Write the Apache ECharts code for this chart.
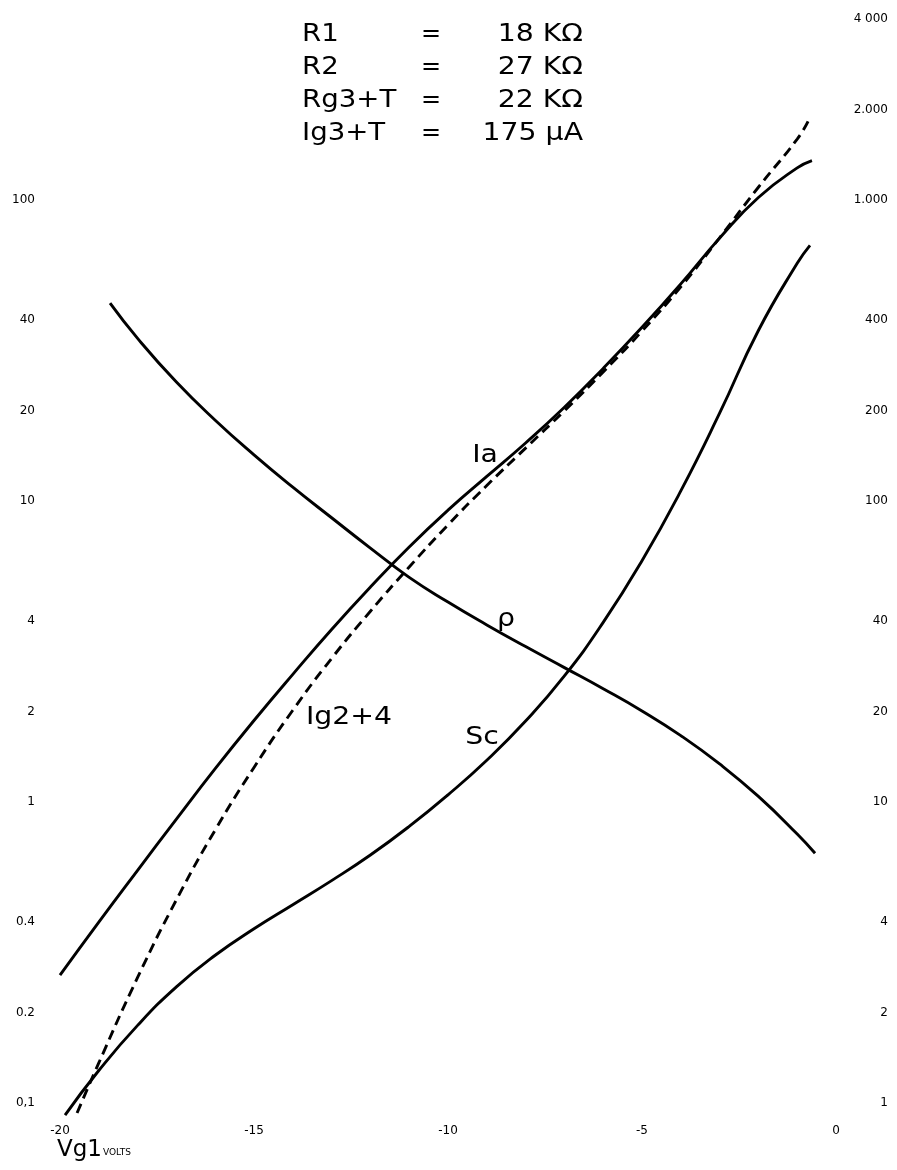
<!DOCTYPE html>
<html><head><meta charset="utf-8">
<script src="https://cdn.jsdelivr.net/npm/echarts@6/dist/echarts.min.js"></script>
<style>html,body{margin:0;padding:0;background:#fff}#c{width:897px;height:1170px}</style>
</head><body><div id="c"></div>
<script>
// ---- data ----
const xTickLabels = ['-20', '-15', '-10', '-5', '0'];
const leftTickValues = [0.1, 0.2, 0.4, 1, 2, 4, 10, 20, 40, 100];
const leftTickLabels = ['0,1', '0.2', '0.4', '1', '2', '4', '10', '20', '40', '100'];
const rightTickValues = [1, 2, 4, 10, 20, 40, 100, 200, 400, 1000, 2000, 4000];
const rightTickLabels = ['1', '2', '4', '10', '20', '40', '100', '200', '400', '1.000', '2.000', '4 000'];

// Ia (solid)
const iaVg1 = [-20, -19, -18, -17, -16, -15, -14, -13, -12, -11, -10, -9, -8, -7, -6, -5, -4, -3, -2, -1, -0.62];
const iaVal = [0.266, 0.399, 0.593, 0.878, 1.291, 1.866, 2.657, 3.745, 5.18, 7.04, 9.33, 12.08, 15.6, 20.5, 27.6, 37.8, 52.7, 74.8, 102.1, 128.0, 135.4];

// Ig2+4 (dashed)
const ig24Vg1 = [-19.56, -19, -18, -17, -16, -15, -14, -13, -12, -11, -10, -9, -8, -7, -6, -5, -4, -3, -2, -1, -0.72];
const ig24Val = [0.0926, 0.1359, 0.2613, 0.4732, 0.8075, 1.303, 2.019, 3.001, 4.306, 6.04, 8.34, 11.27, 15.0, 19.96, 26.86, 36.74, 51.54, 75.0, 110.4, 159.6, 182.8];

// Sc (solid)
const scVg1 = [-19.87, -19, -18, -17, -16, -15, -14, -13, -12, -11, -10, -9, -8, -7, -6, -5, -4, -3, -2, -1, -0.67];
const scVal = [0.0912, 0.1282, 0.1811, 0.2432, 0.3097, 0.3793, 0.456, 0.5483, 0.6668, 0.8299, 1.057, 1.377, 1.858, 2.624, 3.954, 6.339, 10.81, 19.59, 36.9, 61.7, 70.8];

// rho (solid)
const rhoVg1 = [-18.71, -18, -17, -16, -15, -14, -13, -12, -11, -10, -9, -8, -7, -6, -5, -4, -3, -2, -1, -0.54];
const rhoVal = [45.48, 34.73, 24.87, 18.57, 14.25, 11.13, 8.805, 6.98, 5.58, 4.62, 3.879, 3.286, 2.797, 2.38, 2.008, 1.663, 1.339, 1.044, 0.783, 0.676];

const paramNames = ['R1', 'R2', 'Rg3+T', 'Ig3+T'];
const paramValues = ['18 KΩ', '27 KΩ', '22 KΩ', '175 μA'];

// ---- chart ----
const pairs = (xs, ys) => xs.map((x, i) => [x, ys[i]]);
const lookup = (vals, labels) => v => {
  const i = vals.findIndex(a => Math.abs(a - v) / a < 1e-6);
  return i >= 0 ? labels[i] : '';
};
const FONT = 'DejaVu Sans';
const lineSeries = (name, data, dashed) => ({
  name, type: 'line', data, smooth: 0.5, symbol: 'none', clip: false,
  lineStyle: { color: '#000', width: 2.9, type: dashed ? [10, 6] : 'solid' }
});
const txt = (text, x, y, size, align, sx) => ({
  type: 'text', x, y, scaleX: sx || 1,
  style: { text, font: size + 'px ' + FONT, fill: '#000', textAlign: align, textVerticalAlign: 'middle' }
});

const chart = echarts.init(document.getElementById('c'), null, { renderer: 'canvas' });
const graphics = [];
const rowY = [35, 68, 101, 134];
paramNames.forEach((n, i) => {
  graphics.push(txt(n, 302, rowY[i], 24, 'left', 1.15));
  graphics.push(txt('=', 431, rowY[i], 24, 'center', 1));
  graphics.push(txt(paramValues[i], 583, rowY[i], 24, 'right', 1.18));
});
const curveLabels = [
  { text: 'Ia', x: 485, y: 456 },
  { text: 'ρ', x: 506, y: 620 },
  { text: 'Sc', x: 482, y: 738 },
  { text: 'Ig2+4', x: 349, y: 718 }
];
curveLabels.forEach(l => graphics.push(txt(l.text, l.x, l.y, 24, 'center', 1.18)));
graphics.push(txt('Vg1', 57, 1150, 23, 'left', 1));
graphics.push(txt('VOLTS', 103, 1153, 9, 'left', 1));

chart.setOption({
  backgroundColor: '#fff',
  animation: false,
  grid: { left: 60, right: 61, top: 19, bottom: 67 },
  xAxis: {
    type: 'value', min: -20, max: 0, interval: 5,
    axisLine: { show: false }, axisTick: { show: false }, splitLine: { show: false },
    axisLabel: { margin: 22, fontSize: 12, color: '#000', fontFamily: FONT, formatter: v => xTickLabels[Math.round((v + 20) / 5)] }
  },
  yAxis: [
    {
      type: 'log', min: 0.1, max: 400, position: 'left',
      axisLine: { show: false }, axisTick: { show: false }, splitLine: { show: false }, minorSplitLine: { show: false },
      axisLabel: { customValues: leftTickValues, margin: 25, fontSize: 12, color: '#000', fontFamily: FONT, formatter: lookup(leftTickValues, leftTickLabels) }
    },
    {
      type: 'log', min: 1, max: 4000, position: 'right',
      axisLine: { show: false }, axisTick: { show: false }, splitLine: { show: false },
      axisLabel: { customValues: rightTickValues, margin: 52, align: 'right', fontSize: 12, color: '#000', fontFamily: FONT, formatter: lookup(rightTickValues, rightTickLabels) }
    }
  ],
  series: [
    lineSeries('Ia', pairs(iaVg1, iaVal), false),
    lineSeries('Ig2+4', pairs(ig24Vg1, ig24Val), true),
    lineSeries('Sc', pairs(scVg1, scVal), false),
    lineSeries('ρ', pairs(rhoVg1, rhoVal), false)
  ],
  graphic: graphics
});
</script>
</body></html>
